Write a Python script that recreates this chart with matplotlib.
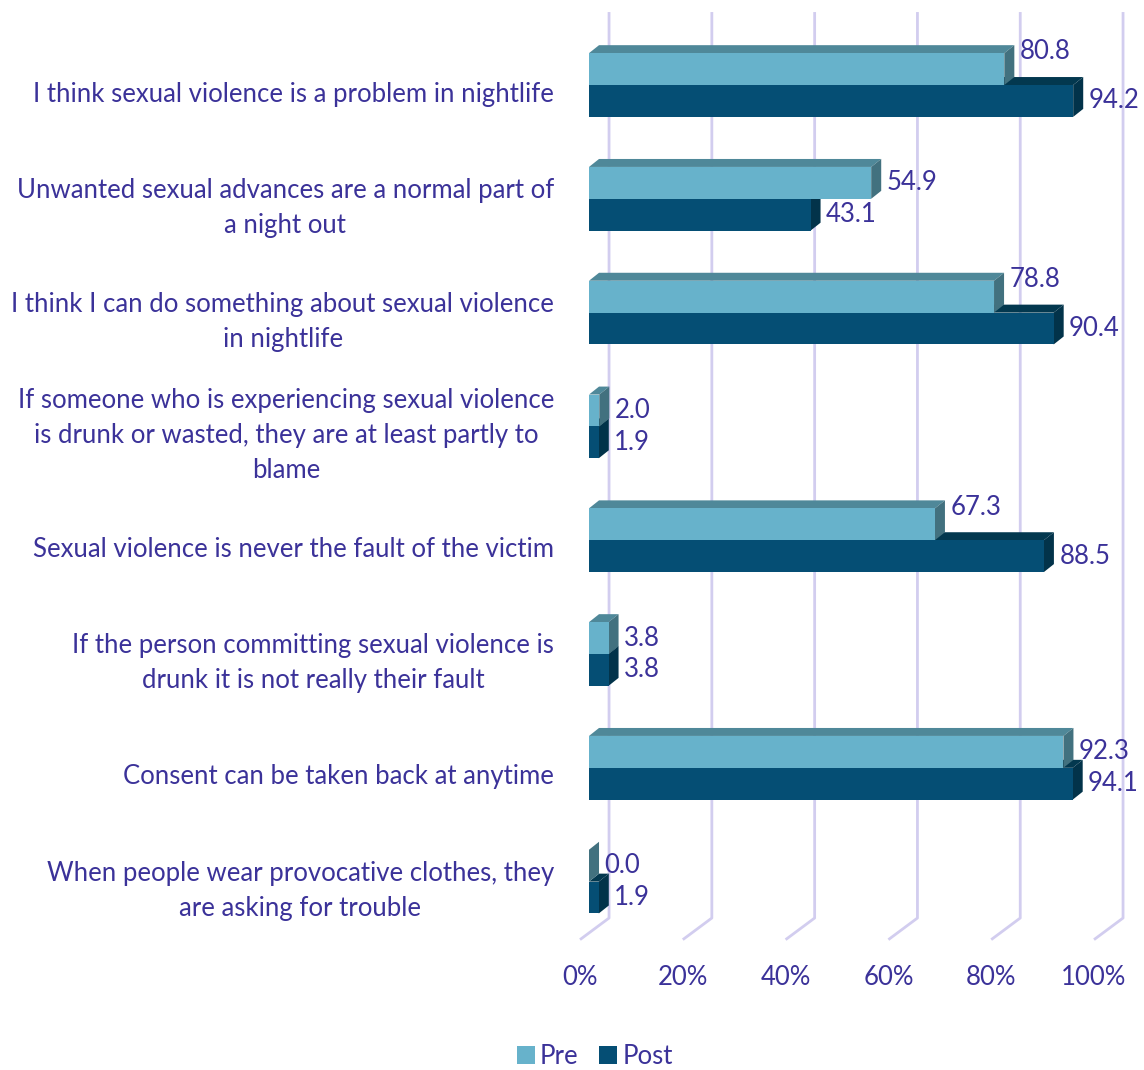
import matplotlib.pyplot as plt
from matplotlib.patches import Polygon, Patch

statements = [
    "I think sexual violence is a problem in nightlife",
    "Unwanted sexual advances are a normal part of\na night out",
    "I think I can do something about sexual violence\nin nightlife",
    "If someone who is experiencing sexual violence\nis drunk or wasted, they are at least partly to\nblame",
    "Sexual violence is never the fault of the victim",
    "If the person committing sexual violence is\ndrunk it is not really their fault",
    "Consent can be taken back at anytime",
    "When people wear provocative clothes, they\nare asking for trouble",
]
pre = [80.8, 54.9, 78.8, 2.0, 67.3, 3.8, 92.3, 0.0]
post = [94.2, 43.1, 90.4, 1.9, 88.5, 3.8, 94.1, 1.9]
ticks = [0, 20, 40, 60, 80, 100]

txt = '#3b3299'
grid_c = '#d2cdef'
pre_c = ('#67b2cb', '#4f8899', '#42717f')    # front, top, side
post_c = ('#054e74', '#03384f', '#02334a')

plt.rcParams['font.family'] = ['Lato', 'DejaVu Sans']

fig = plt.figure(figsize=(11.44, 10.7), dpi=100)
ax = fig.add_axes([0, 0, 1, 1])
# 1% = 5.14 px, bar baseline at 589 px; one category = 113.8 px
ax.set_xlim(-589 / 5.14, (1144 - 589) / 5.14)
ax.set_ylim((1070 - 85) / 113.8, -85 / 113.8)
ax.axis('off')

dx, dy = 1.95, -0.07          # depth of the bars
wall_dx = 3.9                 # back wall offset
floor_dx, floor_dy = -1.75, 0.19
bh = 0.28
fs = 18.5

# back wall gridlines running down and out onto the floor
top_y, back_y = -0.641, 7.32
for t in ticks:
    ax.plot([t + wall_dx, t + wall_dx, t + floor_dx], [top_y, back_y, back_y + floor_dy],
            color=grid_c, lw=2, solid_capstyle='butt', zorder=1)
    ax.text(t + floor_dx, 7.84, f"{t}%", ha='center', va='center',
            fontsize=fs, color=txt)


def bar3d(v, top, cols):
    bot = top + bh
    front = [(0, top), (v, top), (v, bot), (0, bot)]
    lid = [(0, top), (v, top), (v + dx, top + dy), (dx, top + dy)]
    side = [(v, top), (v, bot), (v + dx, bot + dy), (v + dx, top + dy)]
    for pts, c in ((lid, cols[1]), (side, cols[2]), (front, cols[0])):
        ax.add_patch(Polygon(pts, closed=True, facecolor=c, edgecolor='none', zorder=3))


for i, (label, a, b) in enumerate(zip(statements, pre, post)):
    bar3d(b, i, post_c)
    bar3d(a, i - bh, pre_c)
    ax.text(-6.8, i + 0.08, label, ha='right', va='center', multialignment='center',
            fontsize=fs, color=txt, linespacing=1.49)
    # pre label moves up when the post bar runs past it
    lift = 0.15 if b - a > 5 else 0.0
    ax.text(a + 3, i - bh / 2 - lift, f"{a:.1f}", ha='left', va='center',
            fontsize=fs, color=txt, zorder=4)
    ax.text(b + 3, i + bh / 2, f"{b:.1f}", ha='left', va='center',
            fontsize=fs, color=txt, zorder=4)

handles = [Patch(facecolor=pre_c[0], label='Pre'), Patch(facecolor=post_c[0], label='Post')]
leg = fig.legend(handles=handles, loc='center', bbox_to_anchor=(0.52, 0.013), ncol=2,
                 frameon=False, fontsize=fs, handlelength=0.7, handleheight=0.7,
                 handletextpad=0.2, columnspacing=0.8, borderpad=0.1)
for t in leg.get_texts():
    t.set_color(txt)

fig.savefig('out.png', dpi=100)
